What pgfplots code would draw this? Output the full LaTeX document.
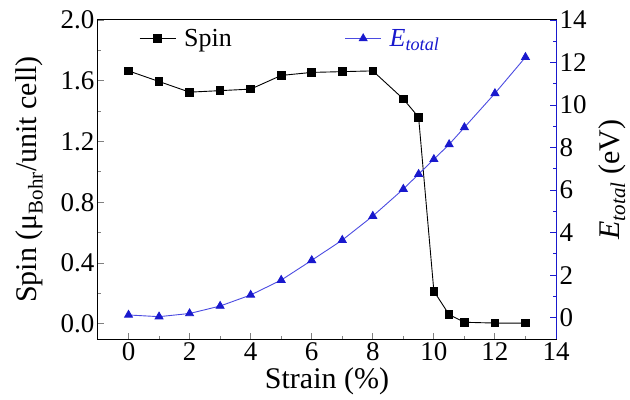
\documentclass[border=0pt]{standalone}
\usepackage{fontspec}
\setmainfont{Liberation Serif}
\usepackage{pgfplots}
\pgfplotsset{compat=1.18}

\definecolor{eblue}{RGB}{25,25,205}
\definecolor{eline}{RGB}{75,75,225}

\newcommand{\tickfont}{\fontsize{27bp}{30bp}\selectfont}
\newcommand{\labfont}{\fontsize{30bp}{33bp}\selectfont}
\newcommand{\legfont}{\fontsize{26bp}{29bp}\selectfont}

\begin{document}
\begin{tikzpicture}
\pgfplotsset{
  every axis/.append style={
    scale only axis, width=458bp, height=319bp,
    xmin=-1, xmax=14, xtick={0,2,...,14}, minor x tick num=1,
    tick label style={font=\tickfont},
    label style={font=\labfont},
    /pgf/number format/assume math mode=true,
    tick align=inside,
    major tick length=6bp, minor tick length=3.5bp,
    tick style={line width=0.9bp},
    axis line style={line width=1bp},
  }
}
\begin{axis}[
  ymin=-0.1, ymax=2.0, ytick={0,0.4,...,2.0}, minor y tick num=1,
  yticklabel style={/pgf/number format/.cd,fixed,fixed zerofill,precision=1},
  xtick pos=left, ytick pos=left,
  xlabel={Strain (\%)},
  ylabel={Spin (μ\textsubscript{Bohr}/unit cell)},
  ylabel shift=11bp,
]
\addplot[black, line width=0.9bp, mark=square*, mark size=3.8bp] coordinates {
  (0,1.665) (1,1.595) (2,1.525) (3,1.535) (4,1.545) (5,1.635) (6,1.655) (7,1.66)
  (8,1.665) (9,1.48) (9.5,1.36) (10,0.215) (10.5,0.06) (11,0.01) (12,0.005) (13,0.005)
};
\coordinate (sw) at (rel axis cs:0,0);
\coordinate (ne) at (rel axis cs:1,1);
\end{axis}
\begin{axis}[
  ymin=-1, ymax=14, ytick={0,2,...,14}, minor y tick num=1,
  axis x line=none, axis y line*=right,
  y axis line style={eblue, line width=1bp},
  ytick style={eblue},
  ylabel={\textit{E}\textsubscript{\textit{total}} (eV)},
  ylabel shift=5bp,
  legend columns=2,
  legend style={at={(rel axis cs:0,1)}, anchor=north west, xshift=38bp, yshift=-5bp,
    draw=none, fill=none, font=\legfont,
    /tikz/every odd column/.append style={column sep=6bp},
    /tikz/every even column/.append style={column sep=111bp}},
  legend image code/.code={\draw[mark repeat=2,mark phase=2]
    plot coordinates {(0bp,0bp) (18bp,0bp) (36bp,0bp)};},
]
\addlegendimage{black, line width=0.9bp, mark=square*, mark size=3.8bp}
\addlegendentry{Spin}
\addplot[eline, line width=0.9bp, mark=triangle*, mark size=4.5bp,
  mark options={fill=eblue, draw=eblue}] coordinates {
  (0,0.13) (1,0.05) (2,0.2) (3,0.55) (4,1.07) (5,1.77) (6,2.7) (7,3.65)
  (8,4.78) (9,6.05) (9.5,6.75) (10,7.45) (10.5,8.15) (11,8.95) (12,10.55) (13,12.25)
};
\addlegendentry{\textcolor{eblue}{\textit{E}\textsubscript{\textit{total}}}}
\end{axis}
\pgfresetboundingbox
\path ([xshift=-98bp,yshift=-61bp]sw) rectangle ([xshift=74bp,yshift=20bp]ne);
\end{tikzpicture}
\end{document}
